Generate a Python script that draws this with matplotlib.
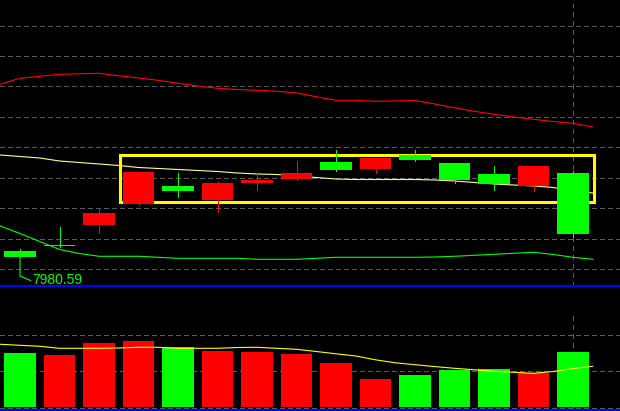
import numpy as np
import matplotlib.pyplot as plt
from matplotlib.patches import Rectangle

plt.rcParams['lines.scale_dashes'] = False

# daily K-line data (15 sessions)
opens  = [7986.59, 7991.59, 8012.59, 8034.09, 8051.59, 8037.59, 8054.59, 8058.59,
          8075.59, 8068.59, 8082.59, 8074.59, 8063.59, 8051.59, 8064.59]
closes = [7980.59, 7991.59, 8024.59, 8065.59, 8046.59, 8054.59, 8057.59, 8064.59,
          8067.59, 8079.59, 8077.59, 8057.59, 8053.59, 8071.59, 8003.59]
highs  = [7988.59, 8010.59, 8029.59, 8065.59, 8064.59, 8055.59, 8063.59, 8076.59,
          8087.59, 8079.59, 8087.59, 8074.59, 8071.59, 8071.59, 8066.59]
lows   = [7980.59, 7990.59, 8004.59, 8032.59, 8040.59, 8025.59, 8047.59, 8057.59,
          8066.59, 8064.59, 8076.59, 8054.59, 8047.59, 8046.59, 8000.59]
volume = [54, 52, 64, 66, 60, 56, 55, 53, 44, 28, 32, 37, 38, 34, 55]

# moving averages, read every half session from -0.5 to 14.5
ma_red = [8153.3, 8159.3, 8161.3, 8163.3, 8163.8, 8164.3, 8161.8, 8159.6, 8157.3, 8154.3,
          8151.6, 8149.3, 8148.1, 8147.3, 8146.3, 8144.8, 8140.8, 8137.3, 8137.3, 8136.3,
          8136.6, 8137.1, 8133.6, 8129.8, 8126.3, 8123.3, 8120.6, 8118.3, 8116.1, 8114.3, 8110.6]
ma_yellow = [8082.6, 8081.1, 8079.6, 8076.6, 8075.1, 8073.6, 8072.1, 8070.1, 8069.1, 8068.1,
             8067.1, 8066.1, 8064.6, 8063.6, 8063.1, 8061.6, 8060.1, 8058.6, 8058.1, 8058.1,
             8058.1, 8058.1, 8057.6, 8056.6, 8055.1, 8053.6, 8052.6, 8051.6, 8050.1, 8046.6, 8044.6]
ma_green = [8011.6, 8004.1, 7996.1, 7988.1, 7984.1, 7981.3, 7981.3, 7981.3, 7980.3, 7979.3,
            7979.3, 7979.3, 7979.3, 7978.3, 7978.3, 7978.3, 7979.3, 7980.3, 7980.3, 7980.3,
            7980.3, 7980.3, 7980.6, 7981.3, 7982.3, 7983.3, 7984.3, 7985.3, 7983.1, 7980.3, 7978.3]
vol_ma = [62.7, 61.7, 60.7, 58.7, 58.7, 58.7, 59.0, 59.7, 59.7, 58.7,
          58.7, 58.7, 59.5, 59.7, 58.7, 57.7, 55.5, 53.2, 51.0, 47.2,
          44.2, 42.3, 40.4, 38.7, 37.2, 35.7, 34.7, 33.7, 35.5, 38.4, 40.7]

# highlighted box (first/last candle, price range) and cursor
box_candles = (3, 14)
box_prices = (8035.1, 8082.6)
cursor_index = 14

RED, GREEN = '#ff0000', '#00ff00'
GRID = '#5a5a5a'
W, H = 620, 411

idx = np.arange(len(opens))
ma_x = np.arange(-0.5, len(opens), 0.5)
o, c, h, l = map(np.array, (opens, closes, highs, lows))
candle_col = np.where(c > o, RED, GREEN)
vol_col = np.where(np.diff(c, prepend=o[0]) > 0, RED, GREEN)

fig = plt.figure(figsize=(W / 100, H / 100), dpi=100, facecolor='black')
ax = fig.add_axes([0, (H - 286) / H, 1, 286 / H])
axv = fig.add_axes([0, (H - 410) / H, 1, 99 / H])

xlim = (-20 / 39.5, 600 / 39.5)
for a in (ax, axv):
    a.set_facecolor('black')
    a.set_xlim(*xlim)
    a.set_xticks([])
    a.set_yticks([])
    for s in ('top', 'left', 'right'):
        a.spines[s].set_visible(False)
    a.spines['bottom'].set_color('#0000ff')
    a.spines['bottom'].set_linewidth(1.5)

ax.set_ylim(7951.59, 8237.59)
axv.set_ylim(-3, 96)

# grid
for g in [8211.6, 8181.3, 8151.3, 8120.3, 8090.3, 8059.3, 8029.3, 7998.3, 7968.3]:
    ax.axhline(g, color=GRID, lw=0.75, ls=(0, (3, 2.2)), zorder=0, antialiased=False)
for g in [72, 36, -1]:
    axv.axhline(g, color=GRID, lw=0.75, ls=(0, (3, 2.2)), zorder=0, antialiased=False)
ax.axvline(cursor_index, ymax=282 / 286, color=GRID, lw=0.75, ls=(0, (3, 3)), zorder=0,
           antialiased=False)
axv.axvline(cursor_index, color=GRID, lw=0.75, ls=(0, (3, 3)), zorder=0, antialiased=False)

# moving averages
ax.plot(ma_x, ma_red, color='#ff0000', lw=0.8, zorder=1)
ax.plot(ma_x, ma_yellow, color='#ffff90', lw=0.8, zorder=1)
ax.plot(ma_x, ma_green, color='#00ff00', lw=0.8, zorder=1)

# highlight frame
bx0 = box_candles[0] - 0.456
bx1 = box_candles[1] + 0.52
ax.add_patch(Rectangle((bx0, box_prices[0]), bx1 - bx0, box_prices[1] - box_prices[0],
                       fill=False, edgecolor='#ffff00', lw=2.2, zorder=2))

# candles
ax.vlines(idx, l, h, colors=candle_col, lw=0.6, zorder=3, antialiased=False)
body = np.maximum(np.abs(c - o), 1.0)
ax.bar(idx, body, bottom=np.minimum(o, c), width=0.8, color=candle_col, lw=0, zorder=4,
       antialiased=False)

# lowest price marker
imin = int(np.argmin(l))
fig.canvas.draw()
x0, y0 = ax.transData.transform((imin, l[imin]))
pts = ax.transData.inverted().transform([(x0, y0), (x0, y0 - 19), (x0 + 10.5, y0 - 23.5)])
ax.plot(pts[:, 0], pts[:, 1], color=GREEN, lw=0.8, zorder=3)
tx, ty = ax.transData.inverted().transform((x0 + 12, y0 - 26.5))
ax.text(tx, ty, f'{l[imin]:.2f}', color=GREEN, fontsize=10, va='baseline', ha='left',
        family=['Liberation Sans Narrow', 'Liberation Sans', 'DejaVu Sans'])

# volume
axv.bar(idx, volume, width=0.8, color=vol_col, lw=0, zorder=2, antialiased=False)
axv.plot(ma_x, vol_ma, color='#ffff00', lw=0.8, zorder=3)

fig.savefig('out.png', dpi=100, facecolor='black')
